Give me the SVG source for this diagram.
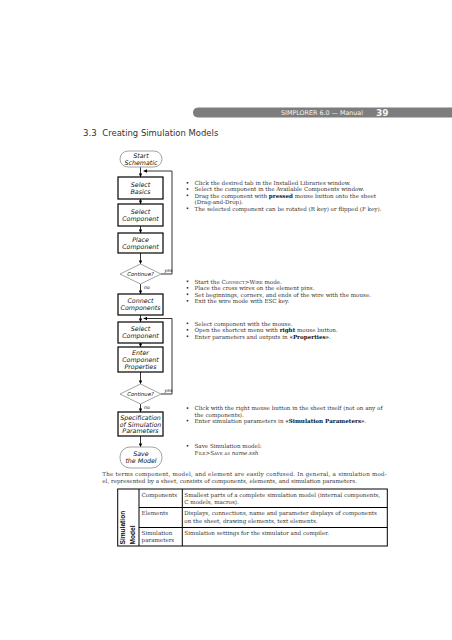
<svg xmlns="http://www.w3.org/2000/svg" width="452" height="640" viewBox="0 0 452 640">
<style>
.bg{fill:#ffffff}
.fc{font-family:"DejaVu Sans",sans-serif;font-style:italic;font-size:6.3px;fill:#111;text-anchor:middle}
.dt{font-family:"DejaVu Sans",sans-serif;font-style:italic;font-size:5.3px;fill:#111;text-anchor:middle}
.lbl{font-family:"DejaVu Sans",sans-serif;font-style:italic;font-size:4.6px;fill:#111}
.box{fill:#fff;stroke:#000;stroke-width:1.2}
.soft{fill:#fff;stroke:#999;stroke-width:0.9}
.con{fill:none;stroke:#000;stroke-width:0.8}
.tx{font-family:"DejaVu Serif","Liberation Serif",serif;font-size:5.6px;fill:#333}
.tp{font-family:"DejaVu Serif","Liberation Serif",serif;font-size:5.6px;fill:#333}
.tb{font-family:"DejaVu Serif","Liberation Serif",serif;font-size:5.6px;fill:#333}
.b{font-weight:bold;fill:#111}
.sc{font-variant:small-caps}
.bul{fill:#333}
.tbl{fill:none;stroke:#000;stroke-width:1}
</style>
<defs>
<marker id="ah" viewBox="0 0 6 6" refX="6" refY="3" markerWidth="3.6" markerHeight="3.6" orient="auto" markerUnits="userSpaceOnUse">
<path d="M0,0 L6,3 L0,6 Z" fill="#000"/>
</marker>
</defs>
<rect class="bg" x="0" y="0" width="452" height="640"/>

<g id="header">
<path d="M199,107.5 H452 V117.5 H199 Q193,117.5 193,112.5 Q193,107.5 199,107.5 Z" fill="#7d7d7d"/>
<text x="281" y="115" font-family="'DejaVu Sans',sans-serif" font-size="6.4" fill="#f4f4f4" textLength="82" lengthAdjust="spacingAndGlyphs">SIMPLORER 6.0 — Manual</text>
<text x="376" y="115.8" font-family="'DejaVu Sans',sans-serif" font-size="9" font-weight="bold" fill="#f4f4f4">39</text>
</g>

<g id="heading" font-family="'DejaVu Sans',sans-serif" font-size="8.6" fill="#333">
<text x="83" y="135.5">3.3</text>
<text x="102.3" y="135.5" textLength="116" lengthAdjust="spacingAndGlyphs">Creating Simulation Models</text>
</g>

<g id="connectors">
<line class="con" x1="140.5" y1="167" x2="140.5" y2="177" marker-end="url(#ah)"/>
<line class="con" x1="140.5" y1="199" x2="140.5" y2="204" marker-end="url(#ah)"/>
<line class="con" x1="140.5" y1="226" x2="140.5" y2="233" marker-end="url(#ah)"/>
<line class="con" x1="140.5" y1="253" x2="140.5" y2="264" marker-end="url(#ah)"/>
<line class="con" x1="140.5" y1="284" x2="140.5" y2="294" marker-end="url(#ah)"/>
<line class="con" x1="140.5" y1="315" x2="140.5" y2="322" marker-end="url(#ah)"/>
<line class="con" x1="140.5" y1="343" x2="140.5" y2="347" marker-end="url(#ah)"/>
<line class="con" x1="140.5" y1="372" x2="140.5" y2="384" marker-end="url(#ah)"/>
<line class="con" x1="140.5" y1="404" x2="140.5" y2="412" marker-end="url(#ah)"/>
<line class="con" x1="140.5" y1="436" x2="140.5" y2="447" marker-end="url(#ah)"/>
<polyline class="con" points="161,274 172,274 172,171 143.5,171" marker-end="url(#ah)"/>
<polyline class="con" points="161,394 172,394 172,318.5 143.5,318.5" marker-end="url(#ah)"/>
<text class="lbl" x="164.5" y="272">yes</text>
<text class="lbl" x="144" y="289">no</text>
<text class="lbl" x="164.5" y="392">yes</text>
<text class="lbl" x="144" y="408.5">no</text>
</g>

<g id="n-start">
<rect class="soft" x="120" y="151" width="42" height="16" rx="8"/>
<text class="fc" x="141" y="157.8">Start</text>
<text class="fc" x="141" y="164.8">Schematic</text>
</g>
<g id="n-basics">
<rect class="box" x="118" y="177" width="45" height="22"/>
<text class="fc" x="140.5" y="186.8">Select</text>
<text class="fc" x="140.5" y="193.8">Basics</text>
</g>
<g id="n-selcomp1">
<rect class="box" x="118" y="204" width="45" height="22"/>
<text class="fc" x="140.5" y="213.8">Select</text>
<text class="fc" x="140.5" y="220.8">Component</text>
</g>
<g id="n-place">
<rect class="box" x="118" y="233" width="45" height="20"/>
<text class="fc" x="140.5" y="241.8">Place</text>
<text class="fc" x="140.5" y="248.8">Component</text>
</g>
<g id="n-cont1">
<polygon class="soft" points="140.5,264 161,274 140.5,284 120,274"/>
<text class="dt" x="140.5" y="276">Continue?</text>
</g>
<g id="n-connect">
<rect class="box" x="118" y="294" width="45" height="21"/>
<text class="fc" x="140.5" y="303.3">Connect</text>
<text class="fc" x="140.5" y="310.3">Components</text>
</g>
<g id="n-selcomp2">
<rect class="box" x="118" y="322" width="45" height="21"/>
<text class="fc" x="140.5" y="331.3">Select</text>
<text class="fc" x="140.5" y="338.3">Component</text>
</g>
<g id="n-enter">
<rect class="box" x="118" y="347" width="45" height="25"/>
<text class="fc" x="140.5" y="354.8">Enter</text>
<text class="fc" x="140.5" y="361.8">Component</text>
<text class="fc" x="140.5" y="368.8">Properties</text>
</g>
<g id="n-cont2">
<polygon class="soft" points="140.5,384 161,394 140.5,404 120,394"/>
<text class="dt" x="140.5" y="396">Continue?</text>
</g>
<g id="n-spec">
<rect class="box" x="118" y="412" width="45" height="24"/>
<text class="fc" x="140.5" y="419.8">Specification</text>
<text class="fc" x="140.5" y="426.6">of Simulation</text>
<text class="fc" x="140.5" y="433.4">Parameters</text>
</g>
<g id="n-save">
<rect class="soft" x="120" y="447" width="42" height="21" rx="10"/>
<text class="fc" x="141" y="456.3">Save</text>
<text class="fc" x="141" y="463.3">the Model</text>
</g>

<g id="notes1">
<rect class="bul" x="186.7" y="182" width="1.6" height="1.6"/>
<rect class="bul" x="186.7" y="188.2" width="1.6" height="1.6"/>
<rect class="bul" x="186.7" y="194.5" width="1.6" height="1.6"/>
<rect class="bul" x="186.7" y="207.5" width="1.6" height="1.6"/>
<text class="tx" x="194.5" y="185">Click the desired tab in the Installed Libraries window.</text>
<text class="tx" x="194.5" y="191.2">Select the component in the Available Components window.</text>
<text class="tx" x="194.5" y="197.5">Drag the component with <tspan class="b">pressed</tspan> mouse button onto the sheet</text>
<text class="tx" x="194.5" y="203.7">(Drag-and-Drop).</text>
<text class="tx" x="194.5" y="210.5">The selected component can be rotated (R key) or flipped (F key).</text>
</g>

<g id="notes2">
<rect class="bul" x="186.7" y="280.5" width="1.6" height="1.6"/>
<rect class="bul" x="186.7" y="287" width="1.6" height="1.6"/>
<rect class="bul" x="186.7" y="293.5" width="1.6" height="1.6"/>
<rect class="bul" x="186.7" y="300" width="1.6" height="1.6"/>
<text class="tx" x="194.5" y="283.5">Start the <tspan class="sc">Connect&gt;Wire</tspan> mode.</text>
<text class="tx" x="194.5" y="290">Place the cross wires on the element pins.</text>
<text class="tx" x="194.5" y="296.5">Set beginnings, corners, and ends of the wire with the mouse.</text>
<text class="tx" x="194.5" y="303">Exit the wire mode with ESC key.</text>
</g>

<g id="notes3">
<rect class="bul" x="186.7" y="322.5" width="1.6" height="1.6"/>
<rect class="bul" x="186.7" y="329" width="1.6" height="1.6"/>
<rect class="bul" x="186.7" y="335.5" width="1.6" height="1.6"/>
<text class="tx" x="194.5" y="325.5">Select component with the mouse.</text>
<text class="tx" x="194.5" y="332">Open the shortcut menu with <tspan class="b">right</tspan> mouse button.</text>
<text class="tx" x="194.5" y="338.5">Enter parameters and outputs in <tspan class="b">«Properties»</tspan>.</text>
</g>

<g id="notes4">
<rect class="bul" x="186.7" y="407.3" width="1.6" height="1.6"/>
<rect class="bul" x="186.7" y="419.8" width="1.6" height="1.6"/>
<text class="tx" x="194.5" y="410.3">Click with the right mouse button in the sheet itself (not on any of</text>
<text class="tx" x="194.5" y="416.5">the components).</text>
<text class="tx" x="194.5" y="422.8">Enter simulation parameters in <tspan class="b">«Simulation Parameters»</tspan>.</text>
</g>

<g id="notes5">
<rect class="bul" x="186.7" y="445" width="1.6" height="1.6"/>
<text class="tx" x="194.5" y="448">Save Simulation model:</text>
<text class="tx" x="194.5" y="454.5"><tspan class="sc">File&gt;Save as</tspan> <tspan font-style="italic">name.ssh</tspan></text>
</g>

<g id="paragraph">
<text class="tp" x="102.3" y="476.3" textLength="284.5" lengthAdjust="spacing">The terms component, model, and element are easily confused. In general, a simulation mod-</text>
<text class="tp" x="102.3" y="483">el, represented by a sheet, consists of components, elements, and simulation parameters.</text>
</g>

<g id="table">
<rect class="tbl" x="117.7" y="489" width="269.6" height="57"/>
<line class="tbl" x1="139" y1="489" x2="139" y2="546"/>
<line class="tbl" x1="182.3" y1="489" x2="182.3" y2="546"/>
<line class="tbl" x1="139" y1="507.5" x2="387.3" y2="507.5"/>
<line class="tbl" x1="139" y1="527.5" x2="387.3" y2="527.5"/>
<text font-family="'Liberation Sans',Arial,sans-serif" font-weight="bold" font-size="6.6" fill="#111" transform="translate(124.6,544.5) rotate(-90)">Simulation</text>
<text font-family="'Liberation Sans',Arial,sans-serif" font-weight="bold" font-size="6.6" fill="#111" transform="translate(134.6,544.5) rotate(-90)">Model</text>
<text class="tb" x="141.6" y="496.5">Components</text>
<text class="tb" x="184.3" y="496.5">Smallest parts of a complete simulation model (internal components,</text>
<text class="tb" x="184.3" y="503.8">C models, macros).</text>
<text class="tb" x="141.6" y="515.3">Elements</text>
<text class="tb" x="184.3" y="515.3">Displays, connections, name and parameter displays of components</text>
<text class="tb" x="184.3" y="522.6">on the sheet, drawing elements, text elements.</text>
<text class="tb" x="141.6" y="534.6">Simulation</text>
<text class="tb" x="141.6" y="541.9">parameters</text>
<text class="tb" x="184.3" y="534.6">Simulation settings for the simulator and compiler.</text>
</g>
</svg>
